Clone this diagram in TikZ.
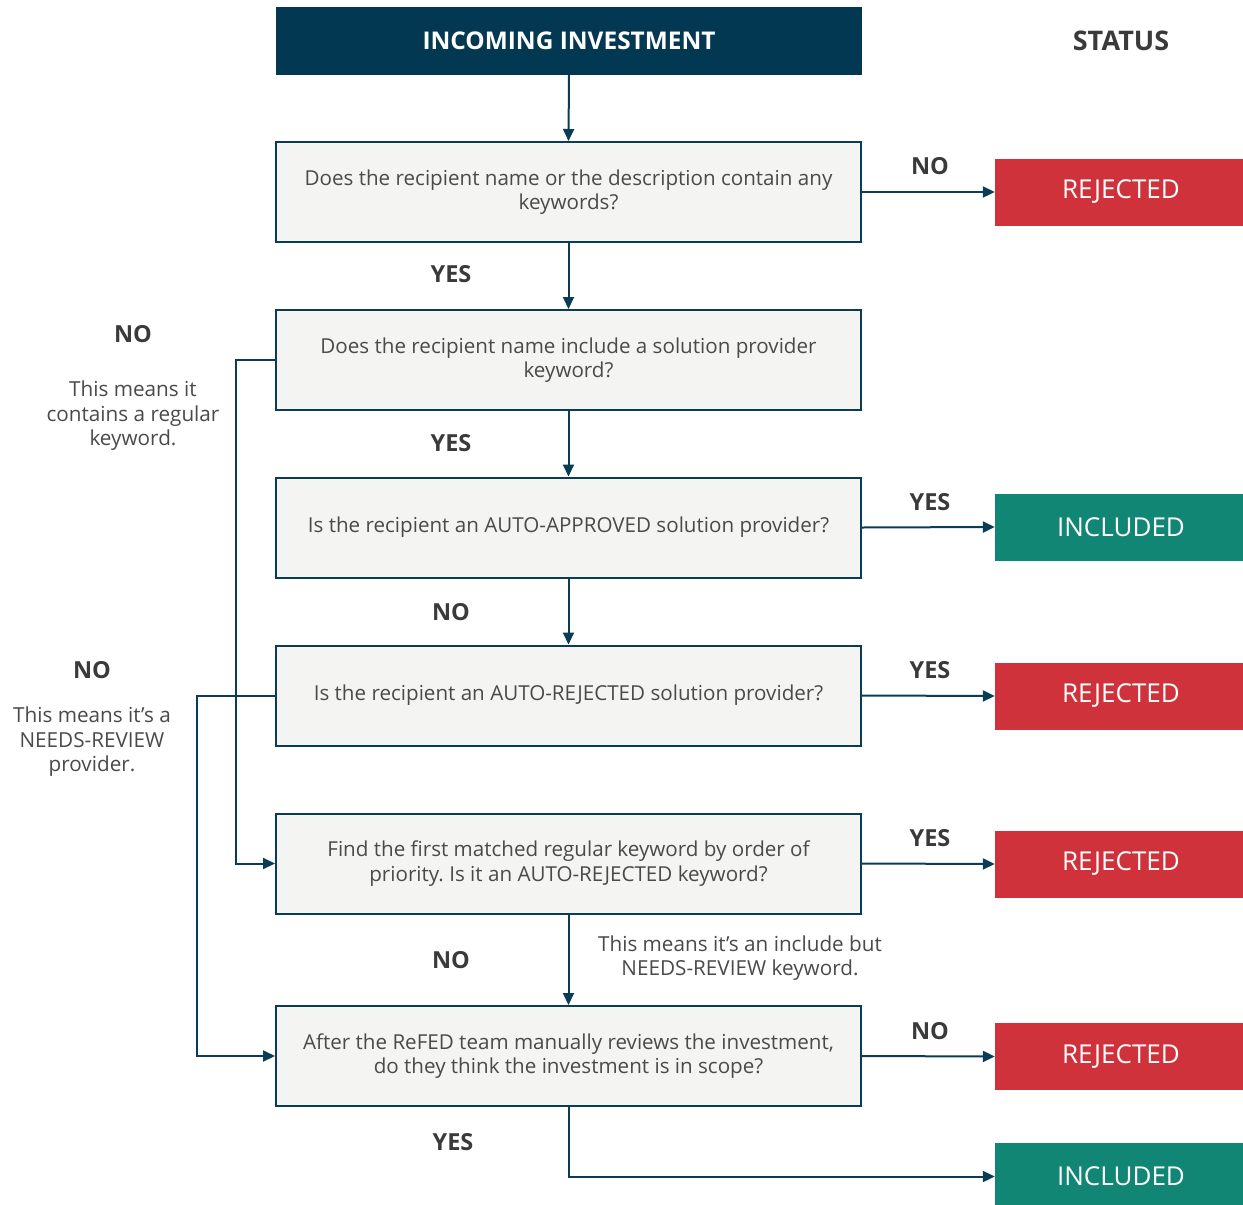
\documentclass[tikz,border=0pt]{standalone}
\usepackage{fontspec}
\setmainfont{Open Sans}
\usetikzlibrary{arrows.meta}
\frenchspacing
\definecolor{navy}{HTML}{033852}
\definecolor{linec}{HTML}{0B3C55}
\definecolor{qfill}{HTML}{F4F4F2}
\definecolor{redc}{HTML}{D0323C}
\definecolor{tealc}{HTML}{128674}
\definecolor{lblc}{HTML}{3A3A3A}
\definecolor{notec}{HTML}{4A4A4A}
\tikzset{
  x=1pt, y=-1pt,
  qbox/.style={draw=linec, line width=2pt, fill=qfill, minimum width=585pt, minimum height=100pt, align=center, text=notec, font=\fontsize{20.6}{24.2}\selectfont\frenchspacing, inner sep=0pt},
  headbox/.style={fill=navy, minimum width=586pt, minimum height=68pt, text=white, font=\fontsize{24.4}{28}\selectfont\bfseries, inner sep=0pt},
  stat/.style={minimum width=252pt, minimum height=67pt, text=white, font=\fontsize{26}{30}\selectfont, inner sep=0pt},
  rej/.style={stat, fill=redc},
  inc/.style={stat, fill=tealc},
  lbl/.style={text=lblc, font=\fontsize{23.5}{27}\selectfont\bfseries, inner sep=0pt},
  note/.style={text=notec, font=\fontsize{20.7}{24.5}\selectfont, align=center, inner sep=0pt},
  conn/.style={draw=linec, line width=2pt},
  arr/.style={conn, -{Triangle[length=12pt,width=11pt]}}
}
\begin{document}
\begin{tikzpicture}
\useasboundingbox (0,0) rectangle (1243,1205);
\fill[white] (0,0) rectangle (1243,1205);

\node[headbox] (top) at (569,40.5) {INCOMING INVESTMENT};
\node[lbl, font=\fontsize{27}{31}\selectfont\bfseries] (status) at (1121,41) {STATUS};

\node[qbox] (b1) at (568.5,192) {Does the recipient name or the description contain any\\keywords?};
\node[qbox] (b2) at (568.5,360) {Does the recipient name include a solution provider\\keyword?};
\node[qbox] (b3) at (568.5,527.5) {Is the recipient an AUTO-APPROVED solution provider?};
\node[qbox] (b4) at (568.5,695.5) {Is the recipient an AUTO-REJECTED solution provider?};
\node[qbox] (b5) at (568.5,863.5) {Find the first matched regular keyword by order of\\priority. Is it an AUTO-REJECTED keyword?};
\node[qbox] (b6) at (568.5,1056) {After the ReFED team manually reviews the investment,\\do they think the investment is in scope?};

\node[rej] (r1) at (1121,192) {REJECTED};
\node[inc] (i1) at (1121,527) {INCLUDED};
\node[rej] (r2) at (1121,696) {REJECTED};
\node[rej] (r3) at (1121,864) {REJECTED};
\node[rej] (r4) at (1121,1056.5) {REJECTED};
\node[inc] (i2) at (1121,1176.5) {INCLUDED};

% vertical flow
\draw[arr] (top.south) -- (b1.north);
\draw[arr] (b1.south) -- (b2.north);
\draw[arr] (b2.south) -- (b3.north);
\draw[arr] (b3.south) -- (b4.north);
\draw[arr] (b5.south) -- (b6.north);

% right arrows
\draw[arr] (b1.east) -- (r1.west);
\draw[arr] (b3.east) -- (i1.west);
\draw[arr] (b4.east) -- (r2.west);
\draw[arr] (b5.east) -- (r3.west);
\draw[arr] (b6.east) -- (r4.west);
\draw[arr] (b6.south) |- (i2.west);

% left loops
\draw[arr] (b2.west) -- ++(-39,0) |- (b5.west);
\draw[arr] (b4.west) -- ++(-78,0) |- (b6.west);

% labels
\node[lbl] (l1) at (930,166) {NO};
\node[lbl] (l2) at (451,274) {YES};
\node[lbl] (l3) at (451,443) {YES};
\node[lbl] (l4) at (930,502) {YES};
\node[lbl] (l5) at (451,612) {NO};
\node[lbl] (l6) at (930,670) {YES};
\node[lbl] (l7) at (930,838) {YES};
\node[lbl] (l8) at (451,960) {NO};
\node[lbl] (l9) at (930,1031) {NO};
\node[lbl] (l10) at (453,1142) {YES};
\node[lbl] (l11) at (133,334) {NO};
\node[lbl] (l12) at (92,670) {NO};

\node[note] (n1) at (133,416) {This means it\\contains a regular\\keyword.};
\node[note] (n2) at (92,742) {This means it’s a\\NEEDS-REVIEW\\provider.};
\node[note] (n3) at (740,958) {This means it’s an include but\\NEEDS-REVIEW keyword.};
\end{tikzpicture}
\end{document}
